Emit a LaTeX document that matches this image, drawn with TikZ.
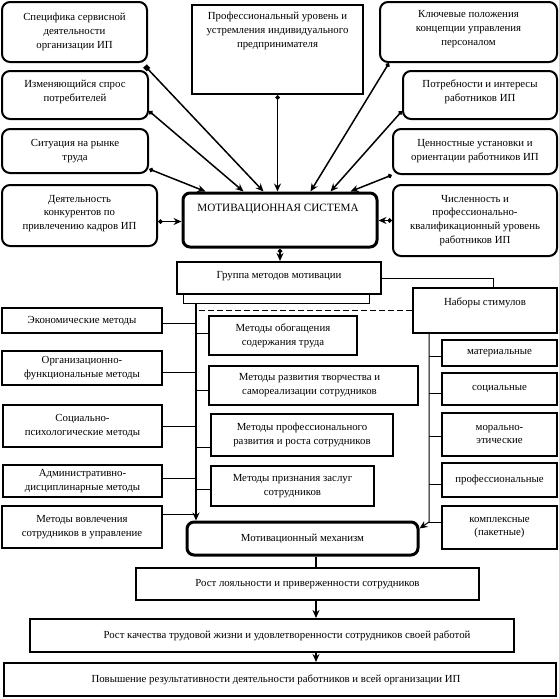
\documentclass[tikz,border=0pt]{standalone}
\usepackage{fontspec}
\setmainfont{Liberation Serif}
\usetikzlibrary{arrows.meta,calc}
\tikzset{
 rbox/.style={draw, line width=2pt, rounded corners=8pt, inner sep=0pt},
 sbox/.style={draw, line width=2pt, inner sep=0pt},
 mbox/.style={draw, line width=3pt, rounded corners=7pt, inner sep=0pt},
 tbox/.style={draw, line width=1pt, inner sep=0pt},
 txt/.style={align=center, font=\fontsize{10.8}{13.8}\selectfont, inner sep=0pt},
 tip/.style={-{Stealth[length=8pt,width=7pt]}},
 conn/.style={line width=1.5pt, {Diamond[length=5pt,width=5pt]}-{Stealth[length=8pt,width=7pt]}},
 thinln/.style={line width=1pt},
 thickln/.style={line width=2.5pt},
}
\newcommand\bx[6]{\node[#1, minimum width={(#5)-(#3)}, minimum height={(#6)-(#4)}] (#2) at ({((#3)+(#5))/2},{((#4)+(#6))/2}) {};}
\begin{document}
\begin{tikzpicture}[x=1pt,y=-1pt]
\useasboundingbox (0,0) rectangle (559,699);
% top left
\bx{rbox}{b1}{2}{2}{147}{62}
\bx{rbox}{b2}{2}{71}{148}{119}
\bx{rbox}{b3}{2}{129}{148}{173}
\bx{rbox}{b4}{2}{185}{157}{246}
\bx{sbox}{bp}{192}{5}{363}{94}
\bx{rbox}{r1}{380}{2}{557}{62}
\bx{rbox}{r2}{403}{71}{557}{119}
\bx{rbox}{r3}{393}{129}{557}{174}
\bx{rbox}{r4}{393}{185}{557}{256}
\bx{mbox}{ms}{183}{193}{377}{247}
\node[txt] at (b1.center) {Специфика сервисной\\деятельности\\организации ИП};
\node[txt] at ([yshift=3]b2.center) {Изменяющийся спрос\\потребителей};
\node[txt] at (b3.center) {Ситуация на рынке\\труда};
\node[txt] at ([yshift=2]b4.center) {Деятельность\\конкурентов по\\привлечению кадров ИП};
\node[txt] at ([yshift=18.5]bp.center) {Профессиональный уровень и\\устремления индивидуального\\предпринимателя};
\node[txt] at ([yshift=3]r1.center) {Ключевые положения\\концепции управления\\персоналом};
\node[txt] at ([yshift=3]r2.center) {Потребности и интересы\\работников ИП};
\node[txt] at (r3.center) {Ценностные установки и\\ориентации работников ИП};
\node[txt] at (r4.center) {Численность и\\профессионально-\\квалификационный уровень\\работников ИП};
\node[txt, font=\fontsize{11.2}{13}\selectfont] at ([yshift=11,xshift=-2]ms.center) {МОТИВАЦИОННАЯ СИСТЕМА};
% top connectors
\draw[conn, {Square[length=5pt]}-{Stealth[length=8pt,width=7pt]}] ([shift={(-3,3)}]b1.south east) -- ([xshift=82]ms.north west);
\draw[conn] ([yshift=9]b2.south east) -- ([xshift=62]ms.north west);
\draw[conn] ([yshift=5]b3.south east) -- ([xshift=24]ms.north west);
\draw[conn] (bp.south) -- (bp.south |- ms.north);
\draw[conn] ([xshift=10]r1.south west) -- ([xshift=129]ms.north west);
\draw[conn] ([yshift=9]r2.south west) -- ([xshift=149]ms.north west);
\draw[conn] (r3.south west) -- ([xshift=169]ms.north west);
\draw[conn] ([yshift=-6]b4.east) -- ([yshift=-6]b4.east -| ms.west);
\draw[conn] (r4.west) -- (r4.west -| ms.east);
% group
\bx{sbox}{gr}{177}{262}{381}{294}
\bx{tbox}{gr2}{183}{294}{369}{303}
\node[txt] at ([yshift=2]gr.center) {Группа методов мотивации};
\draw[conn] (ms.south) -- (ms.south |- gr.north);
\bx{sbox}{nab}{413}{288}{557}{333}
\node[txt] at ([yshift=7.5]nab.center) {Наборы стимулов};
\draw[thinln] (gr.east) -| ([xshift=8]nab.north);
% left boxes
\bx{sbox}{l1}{2}{308}{162}{333}
\bx{sbox}{l2}{2}{351}{162}{385}
\bx{sbox}{l3}{3}{405}{162}{447}
\bx{sbox}{l4}{3}{465}{162}{497}
\bx{sbox}{l5}{2}{506}{162}{548}
\node[txt] at (l1.center) {Экономические методы};
\node[txt] at (l2.center) {Организационно-\\функциональные методы};
\node[txt] at (l3.center) {Социально-\\психологические методы};
\node[txt] at (l4.center) {Административно-\\дисциплинарные методы};
\node[txt] at (l5.center) {Методы вовлечения\\сотрудников в управление};
% center boxes
\bx{sbox}{c1}{209}{316}{357}{355}
\bx{sbox}{c2}{209}{366}{418}{405}
\bx{sbox}{c3}{211}{414}{393}{456}
\bx{sbox}{c4}{211}{466}{374}{506}
\node[txt] at (c1.center) {Методы обогащения\\содержания труда};
\node[txt] at ([xshift=-4]c2.center) {Методы развития творчества и\\самореализации сотрудников};
\node[txt] at (c3.center) {Методы профессионального\\развития и роста сотрудников};
\node[txt] at (c4.center) {Методы признания заслуг\\сотрудников};
% stimulus boxes
\bx{sbox}{s1}{442}{340}{557}{366}
\bx{sbox}{s2}{442}{373}{557}{405}
\bx{sbox}{s3}{442}{413}{557}{456}
\bx{sbox}{s4}{442}{463}{557}{497}
\bx{sbox}{s5}{442}{506}{557}{549}
\node[txt] at (s1.center) {материальные};
\node[txt] at (s2.center) {социальные};
\node[txt] at (s3.center) {морально-\\этические};
\node[txt] at (s4.center) {профессиональные};
\node[txt] at (s5.center) {комплексные\\(пакетные)};
% mechanism
\bx{mbox}{mm}{187}{522}{418}{555}
\node[txt] at (mm.center) {Мотивационный механизм};
% thick vertical
\coordinate (vtop) at (196,303);
\draw[thinln, dashed, dash pattern=on 6pt off 3pt] (nab.west) -- (nab.west -| vtop);
\draw[thickln, tip] (vtop) -- (vtop |- mm.north);
\draw[thinln] ([yshift=-2.5]l1.east) -- ([yshift=-2.5]l1.east -| vtop);
\draw[thinln] ([yshift=-4]l2.east) -- ([yshift=-4]l2.east -| vtop);
\draw[thinln] (l3.east) -- (l3.east -| vtop);
\draw[thinln] ([yshift=3]l4.east) -- ([yshift=3]l4.east -| vtop);
\draw[thinln] ([yshift=13]l5.east) -- ([yshift=13]l5.east -| vtop);
\draw[thinln] ([yshift=2.5]c1.west) -- ([yshift=2.5]c1.west -| vtop);
\draw[thinln] ([yshift=-4.5]c2.west) -- ([yshift=-4.5]c2.west -| vtop);
\draw[thinln] ([yshift=-12]c3.west) -- ([yshift=-12]c3.west -| vtop);
\draw[thinln] ([yshift=-3]c4.west) -- ([yshift=-3]c4.west -| vtop);
% stimulus connector
\coordinate (sv) at (429,522);
\draw[thinln, tip] (nab.south -| sv) -- (sv) -- ([yshift=-8]mm.north east);
\draw[thinln] ([yshift=-3]s1.west) -- ([yshift=-3]s1.west -| sv);
\draw[thinln] ([yshift=-4]s2.west) -- ([yshift=-4]s2.west -| sv);
\draw[thinln] ([yshift=-1.5]s3.west) -- ([yshift=-1.5]s3.west -| sv);
\draw[thinln] ([yshift=-4]s4.west) -- ([yshift=-4]s4.west -| sv);
\draw[thinln] ([yshift=5.5]s5.west) -- (sv);
% outcomes
\bx{sbox}{o1}{136}{568}{479}{600}
\bx{sbox}{o2}{30}{619}{514}{652}
\bx{sbox}{o3}{4}{663}{556}{696}
\node[txt] at (o1.center) {Рост лояльности и приверженности сотрудников};
\node[txt] at ([xshift=15]o2.center) {Рост качества трудовой жизни и удовлетворенности сотрудников своей работой};
\node[txt] at ([xshift=-4]o3.center) {Повышение результативности деятельности работников и всей организации ИП};
\coordinate (bx) at (316,0);
\draw[thickln] (mm.south -| bx) -- (o1.north -| bx);
\draw[thickln, tip] (o1.south -| bx) -- (o2.north -| bx);
\draw[thickln, tip] (o2.south -| bx) -- (o3.north -| bx);
\end{tikzpicture}
\end{document}
